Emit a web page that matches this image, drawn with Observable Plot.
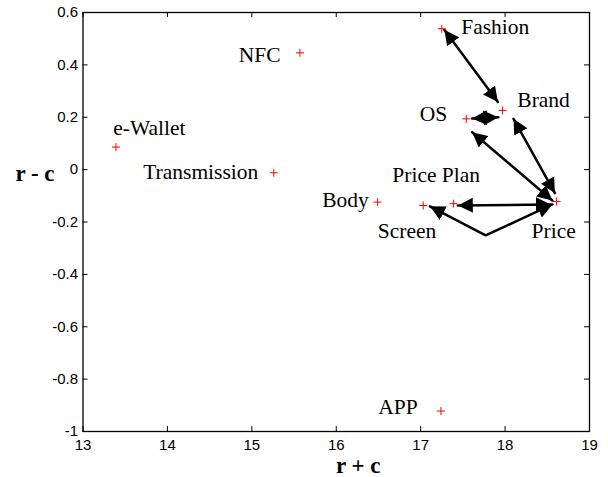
<!DOCTYPE html>
<html>
<head>
<meta charset="utf-8">
<script src="https://cdn.jsdelivr.net/npm/d3@7"></script>
<script src="https://cdn.jsdelivr.net/npm/@observablehq/plot@0.6"></script>
<style>
  html, body { margin: 0; padding: 0; background: #fff; }
</style>
</head>
<body>
<div id="chart"></div>
<script>
// ---- data ----
const attributes = ["Fashion", "Brand", "OS", "Price Plan", "Screen", "Price", "Body", "NFC", "Transmission", "e-Wallet", "APP"];
const rPlusC  = [17.25, 17.97, 17.54, 17.39, 17.03, 18.61, 16.49, 15.57, 15.26, 13.39, 17.24];
const rMinusC = [0.538, 0.226, 0.194, -0.130, -0.137, -0.122, -0.124, 0.446, -0.012, 0.086, -0.922];

// label anchor (start of text, vertical centre) in data units
const labelX = [17.48, 18.145, 16.99, 16.664, 16.493, 18.314, 15.834, 14.846, 13.713, 13.358, 16.498];
const labelY = [0.546, 0.267, 0.211, -0.022, -0.234, -0.234, -0.117, 0.437, -0.011, 0.159, -0.906];

// arrows: id, then vertices (x = r + c, y = r - c)
const arrowId = [1, 1, 2, 2, 3, 3, 4, 4, 5, 5, 6, 6, 6];
const arrowX  = [17.28, 17.915, 17.61, 17.92, 18.10, 18.59, 17.61, 18.56, 17.44, 18.54, 17.11, 17.77, 18.56];
const arrowY  = [0.534, 0.258, 0.195, 0.200, 0.194, -0.09, 0.143, -0.118, -0.137, -0.133, -0.14, -0.251, -0.133];

const xTicks = [13, 14, 15, 16, 17, 18, 19];
const yTicks = [-1, -0.8, -0.6, -0.4, -0.2, 0, 0.2, 0.4, 0.6];
const xTitle = "r + c";
const yTitle = "r - c";

// ---- build ----
const points = attributes.map((name, i) => ({name, x: rPlusC[i], y: rMinusC[i]}));
const labels = attributes.map((name, i) => ({name, x: labelX[i], y: labelY[i]}));
const arrows = arrowId.map((id, i) => ({id, x: arrowX[i], y: arrowY[i]}));

const W = 608, H = 477;
const mL = 82.5, mR = 19, mT = 12, mB = 46;
const innerW = W - mL - mR, innerH = H - mT - mB;
const tickLen = 5;

const head = (color) => {
  const ns = "http://www.w3.org/2000/svg";
  const m = document.createElementNS(ns, "marker");
  m.setAttribute("viewBox", "-15 -8 15 16");
  m.setAttribute("markerUnits", "userSpaceOnUse");
  m.setAttribute("markerWidth", 15);
  m.setAttribute("markerHeight", 16);
  m.setAttribute("refX", 0);
  m.setAttribute("refY", 0);
  m.setAttribute("orient", "auto-start-reverse");
  const p = document.createElementNS(ns, "path");
  p.setAttribute("d", "M0,0L-15,-7.5L-15,7.5Z");
  p.setAttribute("fill", color);
  p.setAttribute("stroke", "none");
  m.appendChild(p);
  return m;
};

const serif = "'Liberation Serif', 'Times New Roman', Times, serif";
const fmt = d => String(+d.toFixed(1));

const chart = Plot.plot({
  width: W, height: H,
  marginLeft: mL, marginRight: mR, marginTop: mT, marginBottom: mB,
  style: {fontFamily: "'Liberation Sans', Arial, Helvetica, sans-serif", fontSize: "15px", background: "white", color: "black"},
  x: {domain: [13, 19]},
  y: {domain: [-1, 0.6]},
  marks: [
    Plot.axisX({ticks: xTicks, tickSize: 0, tickPadding: 7.5, label: null, tickFormat: fmt, fontSize: 15}),
    Plot.axisY({ticks: yTicks, tickSize: 0, tickPadding: 5, label: null, tickFormat: fmt, fontSize: 15}),
    // inward ticks on all four sides
    Plot.tickY(yTicks, {y: d => d, stroke: "black", strokeWidth: 1, insetRight: innerW - tickLen}),
    Plot.tickY(yTicks, {y: d => d, stroke: "black", strokeWidth: 1, insetLeft: innerW - tickLen}),
    Plot.tickX(xTicks, {x: d => d, stroke: "black", strokeWidth: 1, insetTop: innerH - tickLen}),
    Plot.tickX(xTicks, {x: d => d, stroke: "black", strokeWidth: 1, insetBottom: innerH - tickLen}),
    Plot.frame({stroke: "black", strokeWidth: 1.3}),
    Plot.line(arrows, {x: "x", y: "y", z: "id", stroke: "black", strokeWidth: 2.5, strokeLinejoin: "miter", markerStart: head, markerEnd: head}),
    Plot.dot(points, {x: "x", y: "y", symbol: "plus", r: 2.7, stroke: "#ff0000", strokeWidth: 1}),
    Plot.text(labels, {x: "x", y: "y", text: "name", textAnchor: "start", fontFamily: serif, fontSize: 21.5, fill: "black"}),
    Plot.text([yTitle], {frameAnchor: "left", textAnchor: "middle", lineAnchor: "middle", dx: -48, dy: -48.5, fontFamily: serif, fontSize: 23, fontWeight: "bold", fill: "black"}),
    Plot.text([xTitle], {frameAnchor: "bottom", textAnchor: "middle", lineAnchor: "middle", dx: 22, dy: 34.6, fontFamily: serif, fontSize: 23, fontWeight: "bold", fill: "black"})
  ]
});
document.getElementById("chart").appendChild(chart);
</script>
</body>
</html>
